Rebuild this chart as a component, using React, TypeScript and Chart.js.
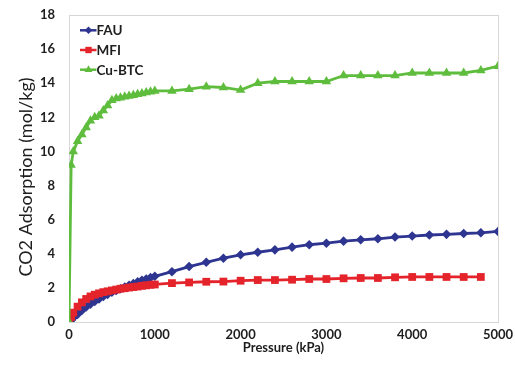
import React, { useEffect, useRef } from 'react';
import { Chart, registerables } from 'chart.js';

Chart.register(...registerables);

// Pressure (kPa) sample points
const pressure = [
  0, 25, 50, 100, 150, 200, 250, 300, 350, 400, 450, 500, 550, 600, 650, 700, 750, 800, 850, 900, 950, 1000,
  1200, 1400, 1600, 1800, 2000, 2200, 2400, 2600, 2800, 3000, 3200, 3400, 3600, 3800, 4000, 4200, 4400, 4600, 4800, 5000,
];

// CO2 adsorption (mol/kg)
const fau = [
  0, 0.1, 0.25, 0.45, 0.68, 0.88, 1.05, 1.2, 1.35, 1.5, 1.62, 1.75, 1.85, 1.95, 2.05, 2.15, 2.25, 2.35, 2.45, 2.52, 2.6, 2.68,
  2.95, 3.25, 3.5, 3.74, 3.94, 4.09, 4.23, 4.39, 4.53, 4.62, 4.74, 4.82, 4.88, 4.98, 5.04, 5.1, 5.14, 5.19, 5.23, 5.31,
];
const mfi = [
  0, 0.3, 0.55, 0.9, 1.15, 1.35, 1.5, 1.6, 1.68, 1.75, 1.8, 1.85, 1.9, 1.95, 1.98, 2.02, 2.05, 2.08, 2.12, 2.15, 2.18, 2.2,
  2.28, 2.32, 2.36, 2.37, 2.42, 2.46, 2.46, 2.48, 2.52, 2.52, 2.56, 2.58, 2.58, 2.62, 2.64, 2.64, 2.64, 2.64, 2.64, null,
];
const cuBtc = [
  0, 9.2, 10.0, 10.6, 11.0, 11.4, 11.8, 12.0, 12.1, 12.4, 12.7, 13.0, 13.1, 13.15, 13.2, 13.25, 13.3, 13.35, 13.4, 13.45, 13.5, 13.55,
  13.55, 13.65, 13.8, 13.75, 13.6, 14.0, 14.1, 14.1, 14.1, 14.1, 14.45, 14.45, 14.45, 14.45, 14.6, 14.6, 14.6, 14.6, 14.75, 15.0,
];

const seriesNames = ['FAU', 'MFI', 'Cu-BTC'];
const seriesColors = ['#2e3591', '#e4232b', '#5fbd3e'];
const seriesMarkers = ['rectRot', 'rect', 'triangle'];
const xAxisTitle = 'Pressure (kPa)';
const yAxisTitle = 'CO2 Adsorption (mol/kg)';
const xMin = 0, xMax = 5000, xStep = 1000;
const yMin = 0, yMax = 18, yStep = 2;

const FONT = 'Lato, "Open Sans", sans-serif';

function drawMarker(ctx: CanvasRenderingContext2D, style: string, x: number, y: number, r: number) {
  ctx.beginPath();
  if (style === 'rectRot') {
    ctx.moveTo(x, y - r); ctx.lineTo(x + r, y); ctx.lineTo(x, y + r); ctx.lineTo(x - r, y); ctx.closePath();
  } else if (style === 'rect') {
    const s = r * Math.SQRT1_2;
    ctx.rect(x - s, y - s, 2 * s, 2 * s);
  } else {
    ctx.moveTo(x, y - r); ctx.lineTo(x + r * 0.866, y + r / 2); ctx.lineTo(x - r * 0.866, y + r / 2); ctx.closePath();
  }
  ctx.fill();
}

const framePlugin = {
  id: 'frame',
  beforeDatasetsDraw(chart: any) {
    const { ctx, chartArea: a } = chart;
    ctx.save();
    ctx.strokeStyle = '#d6d6d6';
    ctx.lineWidth = 1;
    ctx.strokeRect(Math.round(a.left) + 0.5, Math.round(a.top) + 0.5, Math.round(a.right - a.left), Math.round(a.bottom - a.top));
    ctx.restore();
  },
};

const legendPlugin = {
  id: 'insideLegend',
  afterDraw(chart: any) {
    const { ctx, chartArea: a } = chart;
    ctx.save();
    // y-axis title
    ctx.translate(26, 177);
    ctx.rotate(-Math.PI / 2);
    ctx.fillStyle = '#1e1e1e';
    ctx.font = '18px ' + FONT;
    ctx.textAlign = 'center';
    ctx.textBaseline = 'middle';
    ctx.fillText(yAxisTitle, 0, 0);
    ctx.restore();

    ctx.save();
    const x0 = a.left + 11;
    const y0 = a.top + 15.3;
    seriesNames.forEach((name, i) => {
      const y = y0 + i * 19.7;
      ctx.strokeStyle = seriesColors[i];
      ctx.fillStyle = seriesColors[i];
      ctx.lineWidth = 2.5;
      ctx.beginPath();
      ctx.moveTo(x0, y);
      ctx.lineTo(x0 + 16.5, y);
      ctx.stroke();
      drawMarker(ctx, seriesMarkers[i], x0 + 8.5, y, i === 2 ? 4.5 : i === 1 ? 4.5 : 3.8);
      ctx.fillStyle = '#1e1e1e';
      ctx.font = 'bold 13.5px ' + FONT;
      ctx.textBaseline = 'middle';
      ctx.textAlign = 'left';
      ctx.fillText(name, x0 + 16.5, y + 0.5);
    });
    ctx.restore();
  },
};

export default function App() {
  const ref = useRef<HTMLCanvasElement>(null);
  useEffect(() => {
    if (!ref.current) return;
    const series = [fau, mfi, cuBtc];
    const datasets = series.map((vals, i) => ({
      label: seriesNames[i],
      data: pressure.map((p, j) => ({ x: p, y: vals[j] })).filter((d) => d.y !== null),
      borderColor: seriesColors[i],
      backgroundColor: seriesColors[i],
      borderWidth: 2.8,
      pointStyle: seriesMarkers[i] as any,
      pointRadius: i === 2 ? 5.5 : i === 1 ? 5.5 : 4.8,
      pointBorderWidth: 0,
      tension: 0,
      showLine: true,
      order: 2 - i,
    }));
    const chart = new Chart(ref.current, {
      type: 'scatter',
      data: { datasets },
      plugins: [framePlugin, legendPlugin],
      options: {
        animation: false,
        responsive: false,
        layout: { padding: { left: 0, top: 15, right: 17, bottom: 0 } },
        plugins: { legend: { display: false }, tooltip: { enabled: false } },
        scales: {
          x: {
            type: 'linear',
            min: xMin,
            max: xMax,
            afterFit: (s: any) => { s.height = 53; s.paddingLeft = 0; s.paddingRight = 0; },
            grid: { display: false, drawTicks: false },
            border: { display: false },
            ticks: { stepSize: xStep, padding: 5, color: '#1e1e1e', font: { family: FONT, size: 13, weight: 'bold' }, callback: (v: any) => String(v) },
            title: { display: true, text: xAxisTitle, color: '#1e1e1e', padding: { top: 0, bottom: 19 }, font: { family: FONT, size: 13, weight: 'bold' } },
          },
          y: {
            type: 'linear',
            min: yMin,
            max: yMax,
            afterFit: (s: any) => { s.width = 69; s.paddingTop = 0; s.paddingBottom = 0; },
            grid: { display: false, drawTicks: false },
            border: { display: false },
            ticks: { stepSize: yStep, padding: 14, color: '#1e1e1e', font: { family: FONT, size: 13, weight: 'bold' }, callback: (v: any) => String(v) },
            title: { display: false, text: yAxisTitle },
          },
        },
      },
    });
    return () => chart.destroy();
  }, []);
  return (
    <div style={{ position: 'absolute', left: 0, top: 0, width: 515, height: 375, background: '#fff' }}>
      <canvas ref={ref} width={515} height={375} style={{ width: 515, height: 375 }} />
    </div>
  );
}
